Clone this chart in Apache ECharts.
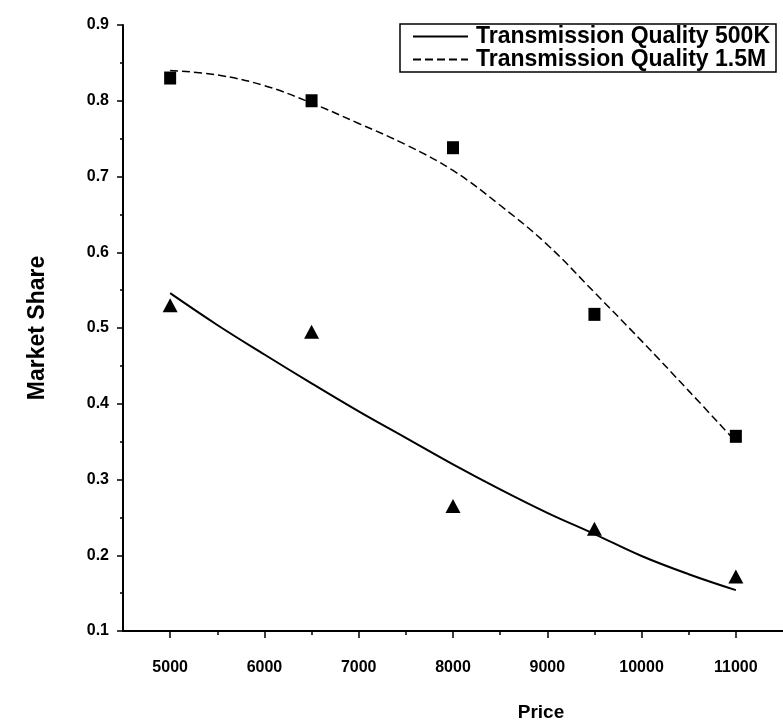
<!DOCTYPE html>
<html>
<head>
<meta charset="utf-8">
<title>Market Share vs Price</title>
<script src="https://cdn.jsdelivr.net/npm/echarts@6/dist/echarts.min.js"></script>
<style>
  html, body { margin: 0; padding: 0; background: #fff; }
  #chart { width: 783px; height: 727px; }
</style>
</head>
<body>
<div id="chart"></div>
<script>
// Fitted demand curves, sampled every 500 along price
const curvePrices = [5000, 5500, 6000, 6500, 7000, 7500, 8000, 8500, 9000, 9500, 10000, 10500, 11000];
const fit500K = [0.546, 0.504, 0.465, 0.427, 0.390, 0.355, 0.320, 0.287, 0.256, 0.228, 0.199, 0.175, 0.154];
const fit1_5M = [0.840, 0.834, 0.820, 0.797, 0.770, 0.742, 0.708, 0.662, 0.610, 0.547, 0.483, 0.417, 0.350];

// Observed market shares
const obsPrices = [5000, 6500, 8000, 9500, 11000];
const obs500K = [0.530, 0.495, 0.265, 0.235, 0.172];
const obs1_5M = [0.830, 0.800, 0.738, 0.518, 0.357];

// Axis ticks
const xMajorTicks = [5000, 6000, 7000, 8000, 9000, 10000, 11000];
const xMinorTicks = [5500, 6500, 7500, 8500, 9500, 10500];
const seriesNames = ['Transmission Quality 500K', 'Transmission Quality 1.5M'];

const pairs = (xs, ys) => xs.map((x, i) => [x, ys[i]]);

const FONT = 'Liberation Sans, Arial, sans-serif';
const chart = echarts.init(document.getElementById('chart'), null, { renderer: 'canvas' });

chart.setOption({
  backgroundColor: '#fff',
  animation: false,
  grid: { left: 123, right: 0, top: 25, bottom: 95, containLabel: false },
  legend: {
    data: seriesNames,
    orient: 'vertical',
    right: 7,
    top: 24,
    padding: [1, 6, 1, 12],
    itemGap: 0,
    itemWidth: 55,
    itemHeight: 14,
    borderColor: '#000',
    borderWidth: 1.5,
    borderRadius: 0,
    backgroundColor: '#fff',
    itemStyle: { opacity: 0 },
    textStyle: { fontFamily: FONT, fontSize: 23, fontWeight: 'bold', color: '#000', lineHeight: 21, padding: [0, 0, 0, 3] }
  },
  xAxis: [
    {
      type: 'value',
      min: 4500,
      max: 11500,
      position: 'bottom',
      name: 'Price',
      nameLocation: 'middle',
      nameGap: 72,
      nameTextStyle: { fontFamily: FONT, fontSize: 19, fontWeight: 'bold', color: '#000', padding: [0, 0, 0, 176] },
      axisLine: { show: true, onZero: false, lineStyle: { color: '#000', width: 2 } },
      axisTick: { show: true, customValues: xMajorTicks, length: 7, lineStyle: { color: '#000', width: 1.5 } },
      axisLabel: {
        customValues: xMajorTicks,
        margin: 29,
        formatter: v => String(v),
        fontFamily: FONT, fontSize: 16, fontWeight: 'bold', color: '#000'
      },
      splitLine: { show: false }
    },
    {
      type: 'value',
      min: 4500,
      max: 11500,
      position: 'bottom',
      axisLine: { show: false },
      axisTick: { show: true, customValues: xMinorTicks, length: 4, lineStyle: { color: '#000', width: 1.5 } },
      axisLabel: { show: false },
      splitLine: { show: false }
    }
  ],
  yAxis: {
    type: 'value',
    min: 0.1,
    max: 0.9,
    interval: 0.1,
    name: 'Market Share',
    nameLocation: 'middle',
    nameGap: 74,
    nameTextStyle: { fontFamily: FONT, fontSize: 23, fontWeight: 'bold', color: '#000' },
    axisLine: { show: true, onZero: false, lineStyle: { color: '#000', width: 2 } },
    axisTick: { show: true, length: 6, lineStyle: { color: '#000', width: 1.5 } },
    minorTick: { show: true, splitNumber: 2, length: 3, lineStyle: { color: '#000', width: 1.5 } },
    axisLabel: {
      margin: 14,
      formatter: v => v.toFixed(1),
      fontFamily: FONT, fontSize: 16, fontWeight: 'bold', color: '#000'
    },
    splitLine: { show: false }
  },
  series: [
    {
      name: seriesNames[0],
      type: 'line',
      data: pairs(curvePrices, fit500K),
      smooth: 0.4,
      symbol: 'none',
      lineStyle: { color: '#000', width: 2, type: 'solid' },
      itemStyle: { color: '#000' },
      z: 3
    },
    {
      name: seriesNames[1],
      type: 'line',
      data: pairs(curvePrices, fit1_5M),
      smooth: 0.4,
      symbol: 'none',
      lineStyle: { color: '#000', width: 1.5, type: [8, 4] },
      itemStyle: { color: '#000' },
      z: 3
    },
    {
      name: 'obs500K',
      type: 'scatter',
      data: pairs(obsPrices, obs500K),
      symbol: 'triangle',
      symbolSize: [15, 14],
      itemStyle: { color: '#000', opacity: 1 },
      z: 4
    },
    {
      name: 'obs1_5M',
      type: 'scatter',
      data: pairs(obsPrices, obs1_5M),
      symbol: 'rect',
      symbolSize: [12, 13],
      itemStyle: { color: '#000', opacity: 1 },
      z: 4
    }
  ]
});
</script>
</body>
</html>
